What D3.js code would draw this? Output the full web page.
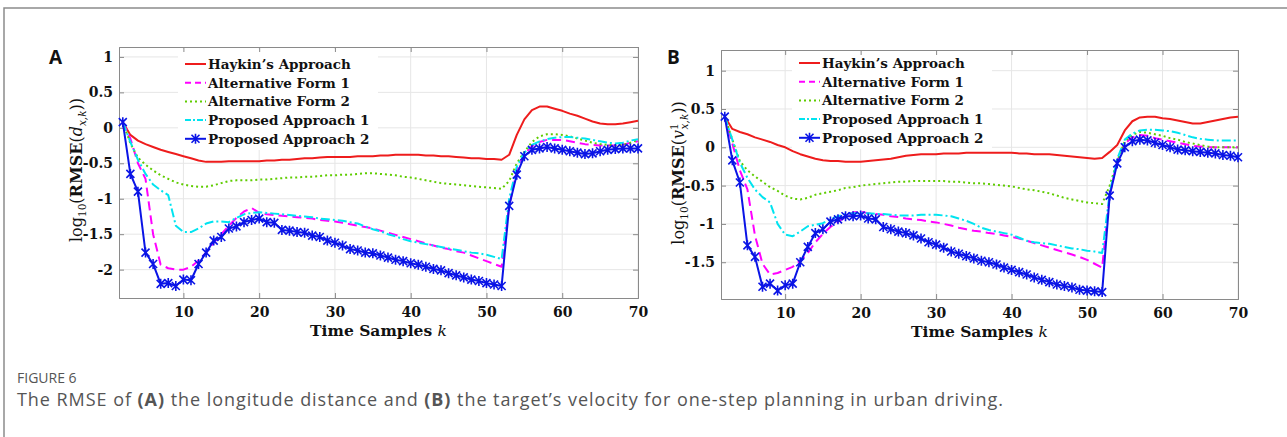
<!DOCTYPE html>
<html>

<head>
  <meta charset="utf-8">
  <title>RMSE one-step planning</title>
  <style>
    body,
    html {
      margin: 0;
      padding: 0;
      background: #fff;
    }
  </style>
</head>

<body>
  <svg id="svg" width="1287" height="437"></svg>

  <script src="https://d3js.org/d3.v7.min.js"></script>

  <script>
    const samples = [2, 3, 4, 5, 6, 7, 8, 9, 10, 11,
      12, 13, 14, 15, 16, 17, 18, 19, 20, 21,
      22, 23, 24, 25, 26, 27, 28, 29, 30, 31,
      32, 33, 34, 35, 36, 37, 38, 39, 40, 41,
      42, 43, 44, 45, 46, 47, 48, 49, 50, 51,
      52, 53, 54, 55, 56, 57, 58, 59, 60, 61,
      62, 63, 64, 65, 66, 67, 68, 69, 70]

    const seriesNames = ["Haykin\u2019s Approach", "Alternative Form 1", "Alternative Form 2",
      "Proposed Approach 1", "Proposed Approach 2"]

    const xTicks = [10, 20, 30, 40, 50, 60, 70]
    const yTicksA = [1, 0.5, 0, -0.5, -1, -1.5, -2]
    const yTicksB = [1, 0.5, 0, -0.5, -1, -1.5]

    // panel A : longitude distance
    const haykinA = [0.08, -0.10, -0.18, -0.23, -0.27, -0.31, -0.34, -0.37, -0.40, -0.43,
      -0.46, -0.48, -0.48, -0.48, -0.47, -0.47, -0.47, -0.47, -0.47, -0.46,
      -0.46, -0.45, -0.45, -0.44, -0.43, -0.43, -0.42, -0.41, -0.41, -0.41,
      -0.41, -0.40, -0.40, -0.40, -0.39, -0.39, -0.38, -0.38, -0.38, -0.38,
      -0.39, -0.39, -0.40, -0.40, -0.41, -0.42, -0.43, -0.43, -0.44, -0.44,
      -0.45, -0.38, -0.10, 0.12, 0.25, 0.30, 0.30, 0.27, 0.24, 0.20,
      0.17, 0.13, 0.09, 0.06, 0.05, 0.05, 0.06, 0.08, 0.10]
    const alt1A = [0.08, -0.15, -0.50, -0.72, -1.50, -1.93, -1.98, -2.00, -2.00, -1.96,
      -1.87, -1.76, -1.62, -1.50, -1.38, -1.27, -1.18, -1.13, -1.20, -1.22,
      -1.23, -1.24, -1.25, -1.26, -1.27, -1.28, -1.30, -1.31, -1.32, -1.34,
      -1.36, -1.38, -1.40, -1.42, -1.45, -1.48, -1.51, -1.54, -1.57, -1.60,
      -1.63, -1.66, -1.69, -1.71, -1.74, -1.76, -1.80, -1.84, -1.88, -1.92,
      -1.96, -1.10, -0.60, -0.37, -0.26, -0.20, -0.17, -0.17, -0.17, -0.19,
      -0.21, -0.23, -0.24, -0.25, -0.25, -0.25, -0.24, -0.21, -0.19]
    const alt2A = [0.08, -0.22, -0.42, -0.52, -0.60, -0.67, -0.72, -0.77, -0.80, -0.82,
      -0.83, -0.83, -0.81, -0.78, -0.75, -0.74, -0.74, -0.74, -0.73, -0.73,
      -0.72, -0.71, -0.70, -0.70, -0.69, -0.69, -0.68, -0.67, -0.67, -0.66,
      -0.66, -0.65, -0.64, -0.64, -0.65, -0.66, -0.67, -0.69, -0.70, -0.72,
      -0.74, -0.76, -0.78, -0.79, -0.80, -0.81, -0.82, -0.83, -0.84, -0.85,
      -0.86, -0.75, -0.50, -0.34, -0.20, -0.12, -0.09, -0.09, -0.10, -0.12,
      -0.15, -0.18, -0.21, -0.23, -0.24, -0.25, -0.24, -0.21, -0.17]
    const prop1A = [0.08, -0.20, -0.45, -0.65, -0.80, -0.88, -0.95, -1.38, -1.47, -1.47,
      -1.42, -1.35, -1.32, -1.32, -1.33, -1.27, -1.22, -1.20, -1.19, -1.20,
      -1.21, -1.22, -1.23, -1.24, -1.25, -1.26, -1.28, -1.29, -1.30, -1.31,
      -1.33, -1.35, -1.39, -1.43, -1.46, -1.50, -1.53, -1.57, -1.60, -1.62,
      -1.64, -1.66, -1.68, -1.70, -1.72, -1.74, -1.76, -1.77, -1.79, -1.82,
      -1.85, -1.00, -0.55, -0.35, -0.24, -0.19, -0.16, -0.14, -0.13, -0.13,
      -0.14, -0.15, -0.17, -0.19, -0.21, -0.22, -0.21, -0.18, -0.16]
    const prop2A = [0.08, -0.65, -0.90, -1.76, -1.92, -2.20, -2.19, -2.23, -2.14, -2.15,
      -1.92, -1.76, -1.59, -1.54, -1.42, -1.39, -1.33, -1.30, -1.28, -1.33,
      -1.34, -1.44, -1.45, -1.47, -1.48, -1.52, -1.54, -1.59, -1.62, -1.66,
      -1.71, -1.73, -1.76, -1.77, -1.80, -1.83, -1.86, -1.88, -1.91, -1.93,
      -1.96, -1.99, -2.01, -2.05, -2.08, -2.11, -2.14, -2.16, -2.19, -2.21,
      -2.23, -1.10, -0.66, -0.40, -0.31, -0.29, -0.27, -0.29, -0.31, -0.33,
      -0.35, -0.37, -0.36, -0.33, -0.31, -0.30, -0.29, -0.29, -0.29]

    // panel B : target velocity
    const haykinB = [0.40, 0.24, 0.20, 0.17, 0.13, 0.10, 0.07, 0.03, 0.00, -0.05,
      -0.09, -0.12, -0.15, -0.17, -0.18, -0.18, -0.19, -0.19, -0.19, -0.18,
      -0.17, -0.16, -0.15, -0.13, -0.11, -0.10, -0.09, -0.09, -0.09, -0.08,
      -0.08, -0.08, -0.07, -0.07, -0.07, -0.07, -0.07, -0.07, -0.07, -0.08,
      -0.08, -0.09, -0.09, -0.09, -0.10, -0.11, -0.12, -0.13, -0.14, -0.15,
      -0.14, -0.06, 0.03, 0.22, 0.34, 0.39, 0.40, 0.40, 0.38, 0.37,
      0.35, 0.33, 0.31, 0.31, 0.33, 0.35, 0.37, 0.39, 0.40]
    const alt1B = [0.40, 0.05, -0.30, -0.55, -1.15, -1.52, -1.66, -1.64, -1.60, -1.56,
      -1.48, -1.38, -1.24, -1.13, -1.04, -0.97, -0.91, -0.85, -0.84, -0.86,
      -0.87, -0.88, -0.90, -0.91, -0.93, -0.94, -0.95, -0.97, -0.98, -1.00,
      -1.02, -1.05, -1.07, -1.09, -1.10, -1.12, -1.13, -1.15, -1.17, -1.19,
      -1.22, -1.25, -1.28, -1.31, -1.34, -1.37, -1.40, -1.43, -1.47, -1.52,
      -1.57, -0.62, -0.18, 0.05, 0.13, 0.16, 0.15, 0.12, 0.10, 0.08,
      0.06, 0.04, 0.02, 0.01, 0.00, 0.00, 0.00, 0.00, 0.00]
    const alt2B = [0.40, 0.10, -0.18, -0.30, -0.38, -0.45, -0.52, -0.57, -0.63, -0.67,
      -0.68, -0.66, -0.62, -0.60, -0.58, -0.56, -0.53, -0.52, -0.50, -0.49,
      -0.48, -0.47, -0.46, -0.45, -0.45, -0.44, -0.44, -0.44, -0.44, -0.44,
      -0.45, -0.45, -0.46, -0.47, -0.47, -0.48, -0.49, -0.50, -0.51, -0.53,
      -0.55, -0.56, -0.58, -0.60, -0.63, -0.66, -0.68, -0.70, -0.72, -0.73,
      -0.74, -0.50, -0.18, 0.08, 0.16, 0.20, 0.19, 0.17, 0.15, 0.12,
      0.10, 0.07, 0.05, 0.03, 0.01, 0.00, 0.00, 0.00, 0.00]
    const prop1B = [0.40, 0.10, -0.20, -0.40, -0.55, -0.65, -0.72, -1.00, -1.14, -1.16,
      -1.10, -1.03, -1.01, -0.99, -0.94, -0.90, -0.87, -0.86, -0.86, -0.86,
      -0.87, -0.87, -0.88, -0.89, -0.89, -0.89, -0.88, -0.88, -0.88, -0.89,
      -0.90, -0.93, -0.96, -1.00, -1.05, -1.08, -1.10, -1.12, -1.14, -1.18,
      -1.22, -1.24, -1.25, -1.26, -1.28, -1.30, -1.32, -1.33, -1.35, -1.36,
      -1.38, -0.60, -0.15, 0.10, 0.18, 0.22, 0.23, 0.23, 0.22, 0.21,
      0.19, 0.16, 0.13, 0.11, 0.10, 0.09, 0.09, 0.09, 0.09]
    const prop2B = [0.40, -0.17, -0.46, -1.28, -1.43, -1.82, -1.78, -1.87, -1.80, -1.78,
      -1.50, -1.30, -1.12, -1.07, -0.97, -0.94, -0.90, -0.90, -0.89, -0.93,
      -0.94, -1.04, -1.07, -1.10, -1.12, -1.15, -1.19, -1.24, -1.27, -1.31,
      -1.36, -1.39, -1.42, -1.45, -1.48, -1.50, -1.53, -1.57, -1.60, -1.63,
      -1.66, -1.70, -1.73, -1.76, -1.79, -1.81, -1.83, -1.86, -1.87, -1.88,
      -1.89, -0.63, -0.21, 0.00, 0.08, 0.10, 0.09, 0.06, 0.03, 0.00,
      -0.03, -0.04, -0.05, -0.06, -0.07, -0.08, -0.10, -0.11, -0.13]

    const styles = [
      { color: "#ee1c1c", dash: null, legDash: null, marker: false },
      { color: "#ff00ff", dash: "9,5", legDash: "6,4", marker: false },
      { color: "#5fcc00", dash: "2,3", legDash: "2,3", marker: false },
      { color: "#00e4f0", dash: "9,3,2,3", legDash: "6,2,2,2", marker: false },
      { color: "#0a14e6", dash: null, legDash: null, marker: true }
    ]

    const serif = "'DejaVu Serif', 'Liberation Serif', serif"
    const star = "M-4,-4L4,4M-4,4L4,-4M0,-5L0,5"
    const svg = d3.select("#svg")

    // outer frame
    svg.append("path")
      .attr("d", "M4,437 L4,8 L1287,8")
      .attr("fill", "none")
      .attr("stroke", "#8c8c8c")
      .attr("stroke-width", 1.5)

    function drawPanel(p) {
      const x = d3.scaleLinear().domain([1.5, 70]).range([p.left, p.right])
      const y = d3.scaleLinear().domain(p.yDomain).range([p.bottom, p.top])
      const g = svg.append("g")

      // grid
      g.selectAll(".gx").data(xTicks).join("line")
        .attr("x1", d => x(d)).attr("x2", d => x(d))
        .attr("y1", p.top).attr("y2", p.bottom)
        .attr("stroke", "#e6e6e6")
      g.selectAll(".gy").data(p.yTicks).join("line")
        .attr("x1", p.left).attr("x2", p.right)
        .attr("y1", d => y(d)).attr("y2", d => y(d))
        .attr("stroke", "#e6e6e6")

      // legend box (over the grid, under the lines)
      g.append("rect")
        .attr("x", p.legX - 7).attr("y", p.legY - 15)
        .attr("width", 200).attr("height", 101)
        .attr("fill", "#fff")

      // axes, ticks pointing inwards like MATLAB
      const fmt = d => String(d)
      g.append("g")
        .attr("transform", `translate(0,${p.bottom})`)
        .call(d3.axisBottom(x).tickValues(xTicks).tickSize(-5).tickPadding(9).tickFormat(fmt))
      g.append("g")
        .attr("transform", `translate(0,${p.top})`)
        .call(d3.axisTop(x).tickValues(xTicks).tickSize(-5).tickFormat(""))
      g.append("g")
        .attr("transform", `translate(${p.left},0)`)
        .call(d3.axisLeft(y).tickValues(p.yTicks).tickSize(-5).tickPadding(6).tickFormat(fmt))
      g.append("g")
        .attr("transform", `translate(${p.right},0)`)
        .call(d3.axisRight(y).tickValues(p.yTicks).tickSize(-5).tickFormat(""))

      g.selectAll(".domain").attr("stroke", "#8a8a8a")
      g.selectAll(".tick line").attr("stroke", "#8a8a8a")
      g.selectAll(".tick text")
        .attr("font-family", serif)
        .attr("font-weight", "bold")
        .attr("font-size", 14)
        .attr("fill", "#111")

      // series
      const line = d3.line()
        .x((d, i) => x(samples[i]))
        .y(d => y(d))

      p.series.forEach((s, i) => {
        const st = styles[i]
        g.append("path")
          .attr("d", line(s))
          .attr("fill", "none")
          .attr("stroke", st.color)
          .attr("stroke-width", 2)
          .attr("stroke-dasharray", st.dash)
          .attr("stroke-linejoin", "round")
        if (st.marker) {
          g.selectAll(null).data(s).join("path")
            .attr("transform", (d, j) => `translate(${x(samples[j])},${y(d)})`)
            .attr("d", star)
            .attr("stroke", st.color)
            .attr("stroke-width", 1.6)
        }
      })

      // legend
      seriesNames.forEach((name, i) => {
        const st = styles[i]
        const ly = p.legY + i * 18.7
        g.append("line")
          .attr("x1", p.legX).attr("x2", p.legX + 21)
          .attr("y1", ly).attr("y2", ly)
          .attr("stroke", st.color)
          .attr("stroke-width", 2)
          .attr("stroke-dasharray", st.legDash)
        if (st.marker) {
          g.append("path")
            .attr("transform", `translate(${p.legX + 10.5},${ly})`)
            .attr("d", star)
            .attr("stroke", st.color)
            .attr("stroke-width", 1.6)
        }
        g.append("text")
          .attr("x", p.legX + 23).attr("y", ly + 5)
          .attr("font-family", serif)
          .attr("font-weight", "bold")
          .attr("font-size", 13.5)
          .attr("fill", "#111")
          .text(name)
      })

      // x label
      const xl = g.append("text")
        .attr("x", (p.left + p.right) / 2).attr("y", p.bottom + 38)
        .attr("text-anchor", "middle")
        .attr("font-family", serif)
        .attr("font-weight", "bold")
        .attr("font-size", 15.5)
        .attr("fill", "#111")
      xl.append("tspan").text("Time Samples ")
      xl.append("tspan").attr("font-style", "italic").attr("font-weight", "normal").text("k")

      // y label
      const yl = g.append("text")
        .attr("transform", `translate(${p.left - 37},${p.yLabelY}) rotate(-90)`)
        .attr("text-anchor", "middle")
        .attr("font-family", serif)
        .attr("font-size", 16)
        .attr("fill", "#111")
      yl.append("tspan").text("log")
      yl.append("tspan").attr("font-size", 10.5).attr("dy", 4).text("10")
      yl.append("tspan").attr("dy", -4).text("(")
      yl.append("tspan").attr("font-weight", "bold").text("RMSE")
      yl.append("tspan").text("(")
      yl.append("tspan").attr("font-style", "italic").text(p.yVar)
      if (p.ySup) {
        yl.append("tspan").attr("font-size", 10.5).attr("dy", -6).text(p.ySup)
        yl.append("tspan").attr("font-size", 10.5).attr("font-style", "italic").attr("dx", -6).attr("dy", 10).text("x,k")
        yl.append("tspan").attr("dy", -4).text("))")
      } else {
        yl.append("tspan").attr("font-size", 10.5).attr("font-style", "italic").attr("dy", 4).text("x,k")
        yl.append("tspan").attr("dy", -4).text("))")
      }

      // panel letter
      svg.append("text")
        .attr("x", p.letterX).attr("y", 64)
        .attr("font-family", "'Open Sans', 'Liberation Sans', sans-serif")
        .attr("font-weight", "bold")
        .attr("font-size", 19)
        .attr("fill", "#111")
        .text(p.letter)
    }

    drawPanel({
      letter: "A", letterX: 49,
      left: 119, right: 638, top: 47, bottom: 298,
      yDomain: [-2.4, 1.14], yTicks: yTicksA,
      legX: 185, legY: 64, yLabelY: 170,
      yVar: "d", ySup: null,
      series: [haykinA, alt1A, alt2A, prop1A, prop2A]
    })

    drawPanel({
      letter: "B", letterX: 667,
      left: 721, right: 1238, top: 50, bottom: 299,
      yDomain: [-1.98, 1.27], yTicks: yTicksB,
      legX: 799, legY: 63, yLabelY: 173,
      yVar: "v", ySup: "1",
      series: [haykinB, alt1B, alt2B, prop1B, prop2B]
    })

    // caption
    const sans = "'Open Sans', 'Noto Sans', sans-serif"
    svg.append("text")
      .attr("x", 17).attr("y", 383)
      .attr("font-family", sans)
      .attr("font-size", 14)
      .attr("fill", "#555")
      .text("FIGURE 6")
    const cap = svg.append("text")
      .attr("x", 17).attr("y", 406)
      .attr("font-family", sans)
      .attr("font-size", 18)
      .attr("letter-spacing", 0.95)
      .attr("fill", "#555")
    cap.append("tspan").text("The RMSE of ")
    cap.append("tspan").attr("font-weight", "bold").text("(A)")
    cap.append("tspan").text(" the longitude distance and ")
    cap.append("tspan").attr("font-weight", "bold").text("(B)")
    cap.append("tspan").text(" the target\u2019s velocity for one-step planning in urban driving.")
  </script>
</body>

</html>
